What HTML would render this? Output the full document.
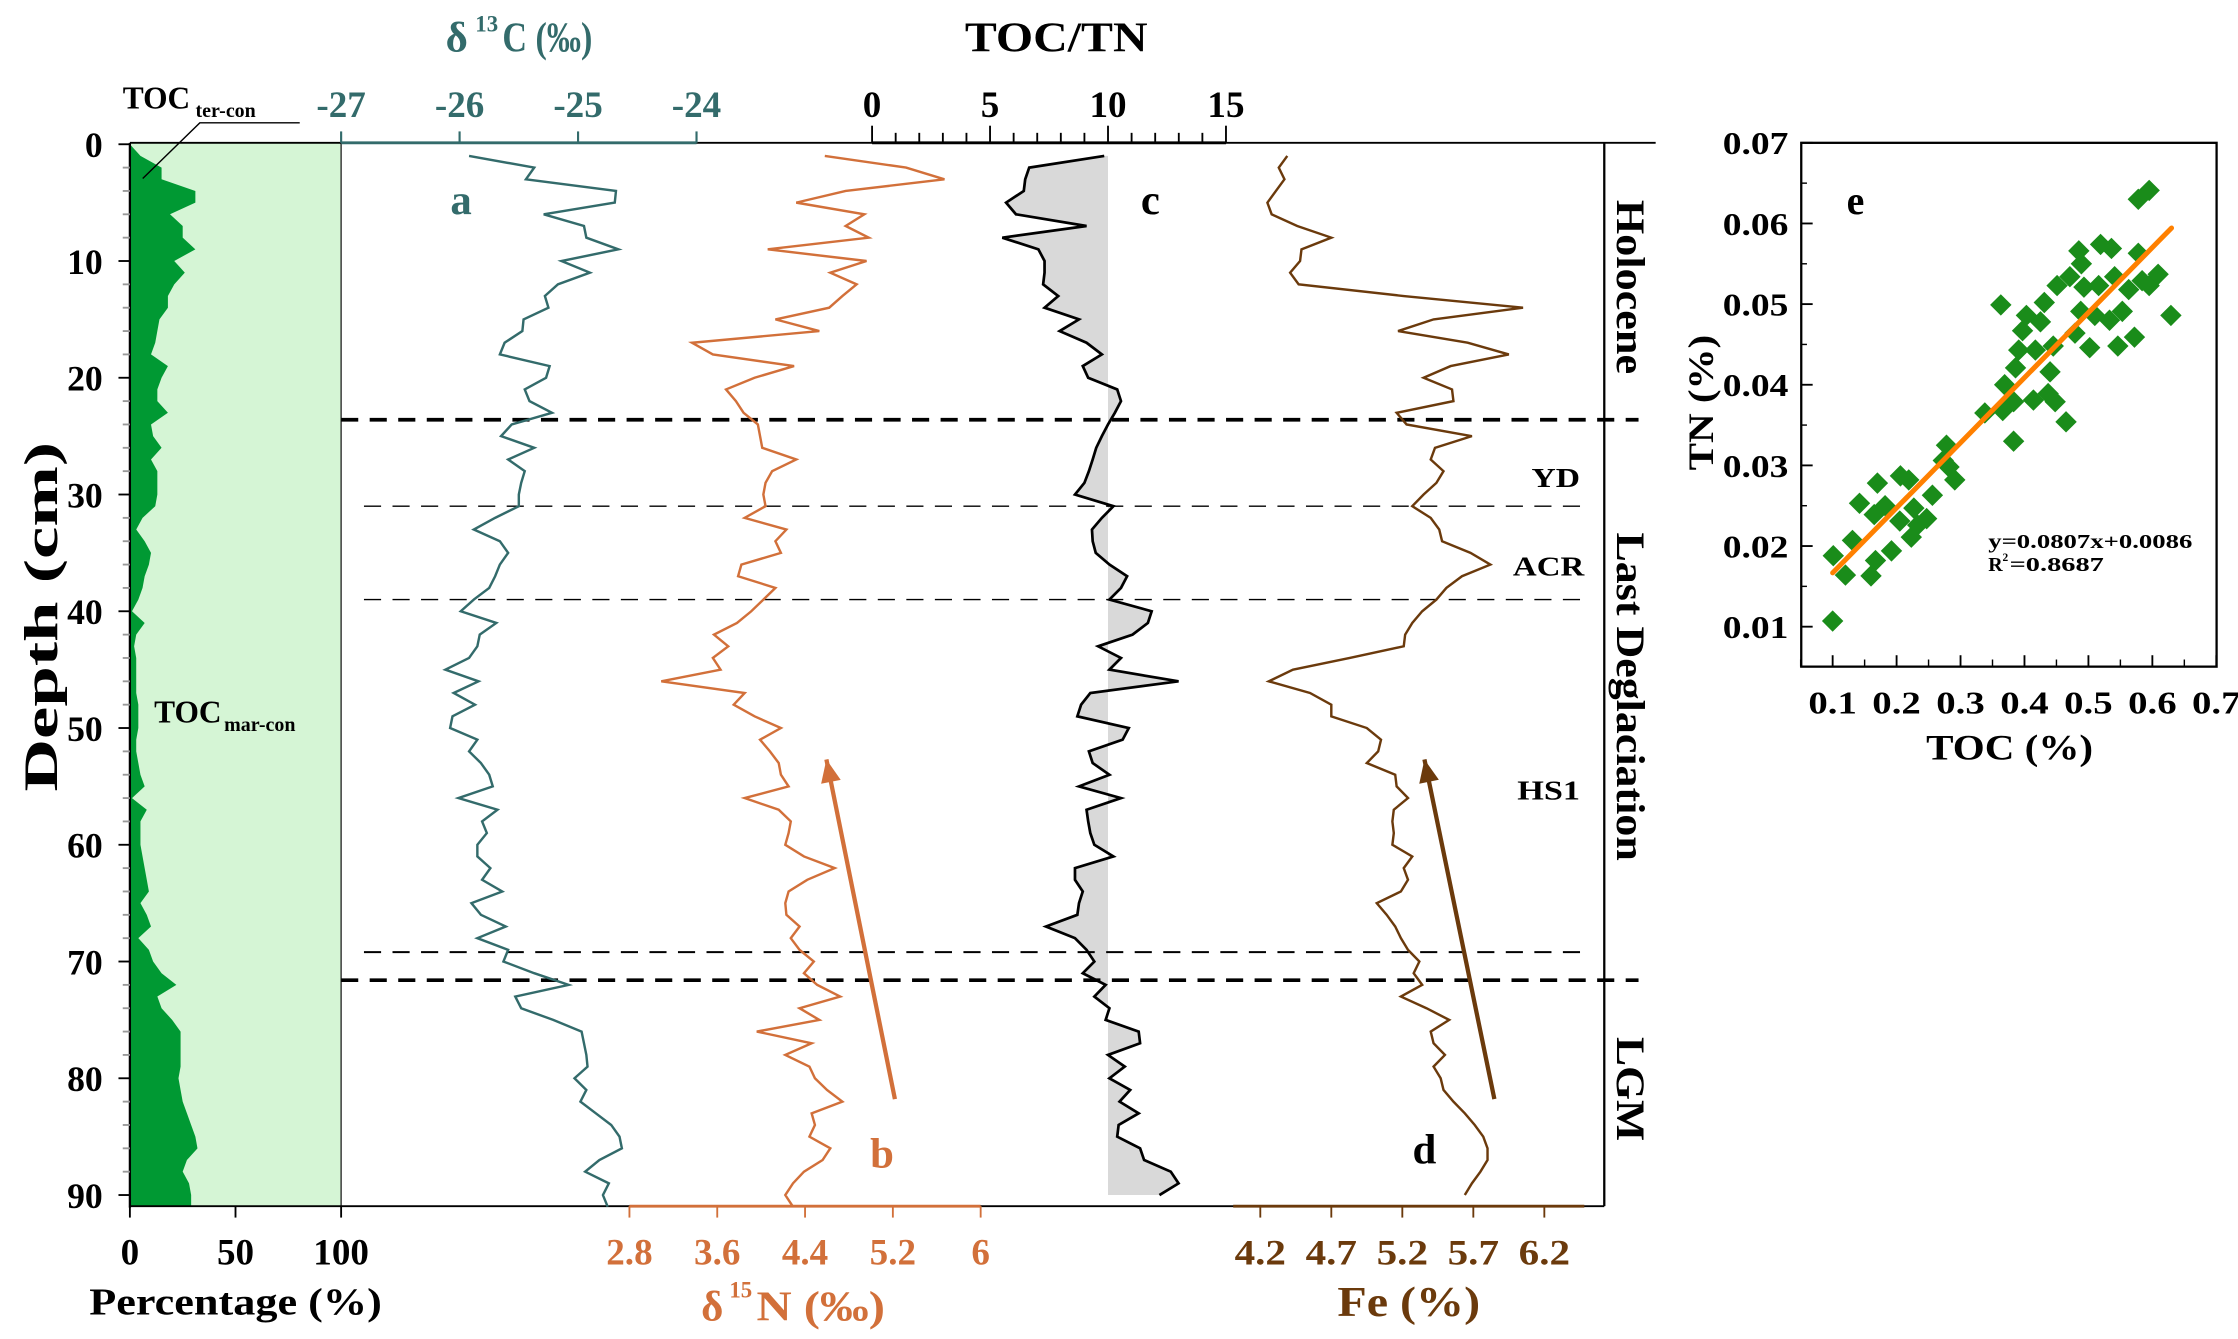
<!DOCTYPE html>
<html><head><meta charset="utf-8"><style>
html,body{margin:0;padding:0;background:#fff;}
svg{display:block;font-family:"Liberation Serif",serif;font-weight:bold;}
</style></head><body>
<svg id="fig" width="2238" height="1339" viewBox="0 0 1568 938" xmlns="http://www.w3.org/2000/svg">
<g id="g"></g>
</svg>
<script>
// ---------- data ----------
const tocTerPct = [0,5,15,15,31,31,19,25,25,31,21,26,21,18,18,14,13,12,10,18,15,13,13,18,10,11,15,10,13,13,13,12,6,3,7,10,9,7,6,4,1,7,3,2,3,3,3,3,4,4,4,3,3,4,5,7,1,8,5,5,5,6,7,8,9,5,8,10,4,9,11,15,22,13,15,20,24,24,24,24,23,24,25,27,29,31,32,27,25,28,29,29];
const d13C = [-25.92,-25.37,-25.44,-24.68,-24.69,-25.29,-24.95,-24.93,-24.66,-25.14,-24.9,-25.17,-25.28,-25.25,-25.46,-25.47,-25.62,-25.66,-25.24,-25.27,-25.45,-25.41,-25.22,-25.56,-25.65,-25.37,-25.59,-25.45,-25.48,-25.5,-25.5,-25.7,-25.88,-25.66,-25.59,-25.66,-25.7,-25.75,-25.88,-25.99,-25.69,-25.83,-25.85,-25.92,-26.12,-25.84,-26.05,
 -25.87,-26.06,-26.08,-25.85,-25.92,-25.82,-25.75,-25.72,-26.01,-25.68,-25.81,-25.77,-25.85,-25.85,-25.74,-25.81,-25.64,-25.9,-25.82,-25.61,-25.85,-25.59,-25.63,-25.37,-25.08,-25.53,-25.48,-25.21,-24.97,-24.95,-24.93,-24.92,-25.03,-24.93,-24.98,-24.85,-24.72,-24.65,-24.63,-24.82,-24.94,-24.74,-24.79,-24.75];
const d15N = [4.58,5.32,5.67,4.77,4.32,4.94,4.77,4.98,4.06,4.96,4.63,4.87,4.74,4.62,4.13,4.53,3.37,3.56,4.30,3.94,3.68,3.77,3.84,3.97,3.99,4.01,4.32,4.10,4.04,4.02,4.04,3.85,4.23,4.13,4.18,3.82,3.79,4.13,4.02,3.91,3.78,3.57,3.70,3.56,3.63,3.09,3.85,
 3.75,3.94,4.18,3.99,4.08,4.16,4.18,4.25,3.85,4.16,4.27,4.25,4.22,4.39,4.67,4.42,4.25,4.22,4.23,4.35,4.27,4.35,4.48,4.39,4.51,4.72,4.35,4.53,3.96,4.46,4.22,4.44,4.49,4.60,4.74,4.46,4.49,4.44,4.63,4.56,4.39,4.29,4.22,4.29];
const tocTn = [9.84,6.66,6.49,6.43,5.68,6.10,9.09,5.52,7.05,7.31,7.31,7.25,7.89,7.31,8.77,7.95,9.09,9.74,8.93,9.16,10.39,10.55,10.29,10.0,9.74,9.5,9.35,9.19,9.0,8.6,10.23,9.74,9.32,9.35,9.48,10.06,10.81,10.55,10.06,11.85,11.69,11.04,9.58,10.55,10.06,12.99,9.25,
 8.86,8.7,10.88,10.62,9.19,9.35,10.06,8.77,10.55,9.09,9.16,9.25,9.42,10.23,8.6,8.6,8.93,8.77,8.7,7.37,8.6,9.09,9.42,8.93,9.9,9.42,10.06,9.9,11.3,11.36,10.0,10.71,10.06,10.94,10.49,11.3,10.45,10.39,11.36,11.53,12.66,12.99,12.18];
const fe = [4.39,4.33,4.37,4.31,4.25,4.28,4.46,4.70,4.49,4.48,4.41,4.47,5.21,6.05,5.42,5.17,5.66,5.95,5.54,5.35,5.55,5.56,5.16,5.23,5.69,5.43,5.40,5.49,5.44,5.35,5.27,5.40,5.46,5.48,5.68,5.82,5.62,5.51,5.44,5.34,5.27,5.22,5.21,4.83,4.43,4.26,4.55,4.70,4.70,4.95,5.05,5.03,4.95,5.15,5.16,5.24,5.14,5.13,5.14,5.13,5.27,5.21,5.24,5.19,5.02,5.09,5.15,5.19,5.24,5.32,5.28,5.34,5.19,5.37,5.53,5.40,5.42,5.50,5.42,5.47,5.49,5.56,5.64,5.71,5.77,5.80,5.80,5.75,5.69,5.64];
const scatTOC = [0.1,0.101,0.12,0.131,0.142,0.16,0.167,0.17,0.165,0.182,0.192,0.205,0.206,0.219,0.223,0.227,0.233,0.247,0.256,0.273,0.278,0.291,0.282,0.338,0.363,0.369,0.366,0.383,0.383,0.386,0.391,0.397,0.403,0.414,0.417,0.425,0.431,0.44,0.437,0.448,0.445,0.451,0.465,0.471,0.479,0.485,0.489,0.488,0.493,0.502,0.51,0.516,0.519,0.536,0.533,0.541,0.546,0.553,0.563,0.572,0.578,0.578,0.595,0.584,0.595,0.609,0.629];
const scatTN = [0.0107,0.0188,0.0164,0.0207,0.0253,0.0163,0.0182,0.0278,0.0239,0.025,0.0194,0.0231,0.0287,0.0282,0.0211,0.0247,0.0226,0.0234,0.0263,0.0306,0.0325,0.0282,0.0298,0.0365,0.0499,0.04,0.0368,0.033,0.0379,0.0421,0.0443,0.0467,0.0486,0.0381,0.0443,0.0478,0.0502,0.0416,0.0389,0.0379,0.0448,0.0523,0.0354,0.0534,0.0464,0.0566,0.055,0.0491,0.0521,0.0446,0.0486,0.0523,0.0574,0.0569,0.048,0.0534,0.0448,0.0491,0.0518,0.0459,0.0563,0.063,0.0641,0.0529,0.0523,0.0537,0.0486];
const fitSlope = 0.0807, fitIntercept = 0.0086;
const depthTicks = [0,10,20,30,40,50,60,70,80,90];
const c13Ticks = [-27,-26,-25,-24];
const tnTicks = [0,5,10,15];
const n15Ticks = [2.8,3.6,4.4,5.2,6];
const feTicks = [4.2,4.7,5.2,5.7,6.2];
const pctTicks = [0,50,100];
const sxTicks = [0.1,0.2,0.3,0.4,0.5,0.6,0.7];
const syTicks = [0.01,0.02,0.03,0.04,0.05,0.06,0.07];

// ---------- scales ----------
const yD = d => 101 + d*8.18;
const xP = p => 91 + p*1.48;
const xC = v => 239 + (v+27)*83;
const xR = v => 611 + v*16.53;
const xN = v => 441 + (v-2.8)*76.9;
const xF = v => 883 + (v-4.2)*99.5;
const sx = v => 1284 + (v-0.1)*448;
const sy = v => 439 - (v-0.01)*5650;

const NS = "http://www.w3.org/2000/svg";
const G = document.getElementById('g');
function el(tag, attrs, parent){
  const e = document.createElementNS(NS, tag);
  for (const k in attrs) e.setAttribute(k, attrs[k]);
  (parent||G).appendChild(e);
  return e;
}
function txt(x,y,s,size,fill,anchor,name,extra){
  const t = el('text',Object.assign({x:x,y:y,'font-size':size,fill:fill,'text-anchor':anchor||'middle'},extra||{}));
  t.textContent = s;
  
  
  return t;
}
function tl(n){return {textLength:n,lengthAdjust:'spacingAndGlyphs'};}
const TEAL='#336b6b', ORG='#d2703a', BRN='#6b3a0c';

// ---------- percentage panel ----------
let pts = [[xP(0),yD(0)]];
tocTerPct.forEach((p,i)=>pts.push([xP(p),yD(Math.min(i,90.95))]));
pts.push([xP(0),845]);
const lg = el('rect',{x:91,y:100,width:148,height:745,fill:'#d5f5d5'});


const dg = el('polygon',{points:pts.map(p=>p.join(',')).join(' '),fill:'#009933'});


el('line',{x1:239,y1:100,x2:239,y2:845,stroke:'#333','stroke-width':1});

// ---------- TOC/TN grey fill ----------
let tp = tocTn.map((v,i)=>[xR(v),yD(i+1)]);
const gp = el('polygon',{points:[[xR(10),yD(1)]].concat(tp).concat([[xR(10),yD(90)]]).map(p=>p.join(',')).join(' '),fill:'#d9d9d9'});



// ---------- frame ----------
el('line',{x1:91,y1:100,x2:1160,y2:100,stroke:'#000','stroke-width':1.3});
el('line',{x1:91,y1:845,x2:1124,y2:845,stroke:'#000','stroke-width':1.3});
el('line',{x1:91,y1:100,x2:91,y2:846,stroke:'#000','stroke-width':1.6});
el('line',{x1:1124,y1:100,x2:1124,y2:845,stroke:'#000','stroke-width':1.6});

[[23.6,2.6,239,1148],[71.6,2.6,239,1148],[31,1,255,1112],[39,1,255,1112],[69.2,1.4,255,1112]].forEach(d=>{
  const l = el('line',{x1:d[2],y1:yD(d[0]),x2:d[3],y2:yD(d[0]),stroke:'#000','stroke-width':d[1],'stroke-dasharray':'12,8'});
  
  
});

// ---------- series lines ----------
function poly(arr,fx,col,w,name){
  const p = el('polyline',{points:arr.map((v,i)=>fx(v)+','+yD(i+1)).join(' '),fill:'none',stroke:col,'stroke-width':w});
  
  
}
poly(d13C,xC,TEAL,1.7,'d13c-line');
poly(d15N,xN,ORG,1.7,'d15n-line');
poly(tocTn,xR,'#000',1.9,'toc-tn-line');
poly(fe,xF,BRN,1.7,'fe-line');

// ---------- depth axis ----------
for(let d=0; d<=90; d+=2){
  const major = d%10===0;
  el('line',{x1:major?83:86,y1:yD(d),x2:91,y2:yD(d),stroke:major?'#000':'#999','stroke-width':1.3});
}
depthTicks.forEach(d=>txt(72,yD(d)+9,String(d),25,'#000','end','depth-tick-label'));
txt(0,0,'Depth (cm)',33,'#000','middle','depth-axis-title',Object.assign({transform:'translate(40,432) rotate(-90)'},tl(245)));

// ---------- top axes ----------
el('line',{x1:239,y1:100,x2:488,y2:100,stroke:TEAL,'stroke-width':2});
c13Ticks.forEach(v=>{el('line',{x1:xC(v),y1:92,x2:xC(v),y2:100,stroke:TEAL,'stroke-width':1.5});txt(xC(v),82,String(v),26,TEAL,'middle','d13c-tick-label');});
txt(320,36,'δ',30,TEAL,'middle','d13c-axis-title');
txt(341,22,'13',16,TEAL,'middle','d13c-superscript');
txt(352,36,'C (‰)',30,TEAL,'start','d13c-axis-title-rest',tl(63));
el('line',{x1:611,y1:100,x2:859,y2:100,stroke:'#000','stroke-width':2});
for(let v=0; v<=15; v++){el('line',{x1:xR(v),y1:v%5===0?88:93,x2:xR(v),y2:100,stroke:'#000','stroke-width':1.3});}
tnTicks.forEach(v=>txt(xR(v),82,String(v),26,'#000','middle','toc-tn-tick-label'));
txt(740,36,'TOC/TN',30,'#000','middle','toc-tn-axis-title',tl(128));

// ---------- bottom axes ----------
pctTicks.forEach(v=>{el('line',{x1:xP(v),y1:845,x2:xP(v),y2:853,stroke:'#000','stroke-width':1.3});txt(xP(v),886,String(v),26,'#000','middle','percentage-tick-label');});
txt(165,921,'Percentage (%)',27,'#000','middle','percentage-axis-title',tl(205));
el('line',{x1:441,y1:845,x2:687,y2:845,stroke:ORG,'stroke-width':2});
n15Ticks.forEach(v=>{el('line',{x1:xN(v),y1:845,x2:xN(v),y2:853,stroke:ORG,'stroke-width':1.3});txt(xN(v),886,String(v),26,ORG,'middle','d15n-tick-label');});
txt(499,925,'δ',30,ORG,'middle','d15n-axis-title');
txt(519,909,'15',16,ORG,'middle','d15n-superscript');
txt(530,925,'N (‰)',30,ORG,'start','d15n-axis-title-rest',tl(90));
el('line',{x1:864,y1:845,x2:1110,y2:845,stroke:BRN,'stroke-width':2});
feTicks.forEach(v=>{el('line',{x1:xF(v),y1:845,x2:xF(v),y2:853,stroke:BRN,'stroke-width':1.3});txt(xF(v),886,String(v),25,BRN,'middle','fe-tick-label',tl(36));});
txt(987,922,'Fe (%)',30,BRN,'middle','fe-axis-title',tl(100));

// ---------- labels ----------
txt(86,76,'TOC',22,'#000','start','toc-ter-con-label');
txt(137,82,'ter-con',14,'#000','start','toc-ter-con-subscript');
el('polyline',{points:'210,86 140,86 100,125',fill:'none',stroke:'#000','stroke-width':1});
txt(108,506,'TOC',22,'#000','start','toc-mar-con-label');
txt(157,512,'mar-con',14,'#000','start','toc-mar-con-subscript');
txt(323,150,'a',30,TEAL,'middle','panel-label-a');
txt(806,150,'c',30,'#000','middle','panel-label-c');
txt(618,818,'b',30,ORG,'middle','panel-label-b');
txt(998,815,'d',30,'#000','middle','panel-label-d');
txt(1090,341,'YD',19,'#000','middle','yd-label',tl(34));
txt(1085,403,'ACR',19,'#000','middle','acr-label',tl(50));
txt(1085,560,'HS1',19,'#000','middle','hs1-label',tl(44));
txt(0,0,'Holocene',28,'#000','middle','holocene-label',Object.assign({transform:'translate(1133,201) rotate(90)'},tl(122)));
txt(0,0,'Last Deglaciation',28,'#000','middle','last-deglaciation-label',Object.assign({transform:'translate(1133,488) rotate(90)'},tl(230)));
txt(0,0,'LGM',28,'#000','middle','lgm-label',Object.assign({transform:'translate(1133,763) rotate(90)'},tl(73)));

function arrow(x1,y1,x2,y2,col,name){
  const a = el('g',{});
  
  
  el('line',{x1:x1,y1:y1,x2:x2,y2:y2,stroke:col,'stroke-width':3},a);
  const ang = Math.atan2(y2-y1,x2-x1), L=16, W=7;
  const bx=x2-L*Math.cos(ang), by=y2-L*Math.sin(ang);
  el('polygon',{points:`${x2},${y2} ${bx+W*Math.sin(ang)},${by-W*Math.cos(ang)} ${bx-W*Math.sin(ang)},${by+W*Math.cos(ang)}`,fill:col},a);
}
arrow(627,770,579,532,ORG,'d15n-trend-arrow');
arrow(1047,770,998,532,BRN,'fe-trend-arrow');

// ---------- scatter e ----------
el('rect',{x:1262,y:100,width:291,height:367,fill:'none',stroke:'#000','stroke-width':1.6});
syTicks.forEach(v=>{el('line',{x1:1262,y1:sy(v),x2:1270,y2:sy(v),stroke:'#000','stroke-width':1.3});txt(1253,sy(v)+8,v.toFixed(2),22,'#000','end','tn-tick-label',tl(46));});
for(let v=0.015; v<0.07; v+=0.01){el('line',{x1:1262,y1:sy(v),x2:1266,y2:sy(v),stroke:'#000','stroke-width':1});}
sxTicks.forEach(v=>{el('line',{x1:sx(v),y1:467,x2:sx(v),y2:459,stroke:'#000','stroke-width':1.3});txt(sx(v),500,v.toFixed(1),22,'#000','middle','toc-tick-label',tl(34));});
for(let v=0.05; v<0.7; v+=0.1){el('line',{x1:sx(v),y1:467,x2:sx(v),y2:462,stroke:'#000','stroke-width':1});}
txt(1408,532,'TOC (%)',25,'#000','middle','scatter-x-axis-title',tl(117));
txt(0,0,'TN (%)',25,'#000','middle','scatter-y-axis-title',Object.assign({transform:'translate(1200,282) rotate(-90)'},tl(95)));
txt(1300,150,'e',28,'#000','middle','panel-label-e');
scatTOC.forEach((v,i)=>{
  const x=sx(v), y=sy(scatTN[i]), r=7.5;
  const p = el('polygon',{points:`${x},${y-r} ${x+r},${y} ${x},${y+r} ${x-r},${y}`,fill:'#1a8c1a'});
  
  
});
const fl = el('line',{x1:sx(0.1),y1:sy(fitSlope*0.1+fitIntercept),x2:sx(0.63),y2:sy(fitSlope*0.63+fitIntercept),stroke:'#ff8000','stroke-width':3.5,'stroke-linecap':'round'});


txt(1393,384,'y=0.0807x+0.0086',14,'#000','start','regression-equation',tl(143));
txt(1393,400,'R',14,'#000','start','r-squared');
txt(1403,393,'2',8,'#000','start','r-squared-exp');
txt(1408,400,'=0.8687',14,'#000','start','r-squared-value',tl(66));
</script>
</body></html>
